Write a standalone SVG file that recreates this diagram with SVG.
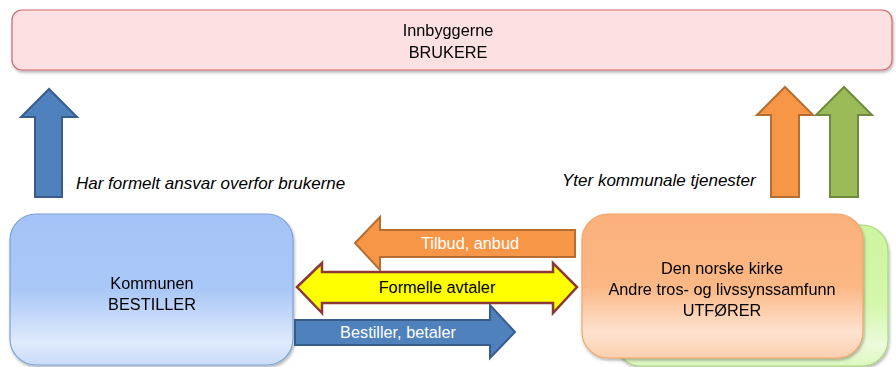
<svg xmlns="http://www.w3.org/2000/svg" width="896" height="367" viewBox="0 0 896 367">
<style>
text{font-family:"Liberation Sans",Arial,sans-serif;font-size:16.3px;text-anchor:middle;dominant-baseline:central}
.it{font-style:italic;font-size:17px;text-anchor:start}
.w{fill:#ffffff}
.blue{fill:#4f81bd;stroke:#385d8a;stroke-width:2}
.orange{fill:#f79646;stroke:#b66d31;stroke-width:2}
.green{fill:#9bbb59;stroke:#71893f;stroke-width:2}
.yellow{fill:#ffff00;stroke:#8c3836;stroke-width:2.5}
</style>
<defs>
<filter id="sh" x="-5%" y="-10%" width="110%" height="130%">
<feDropShadow dx="1" dy="2" stdDeviation="1.5" flood-color="#000" flood-opacity="0.3"/>
</filter>
<linearGradient id="gBlue" x1="0" y1="0" x2="0" y2="1">
<stop offset="0" stop-color="#a5c3f6"/>
<stop offset="0.5" stop-color="#a9c7f7"/>
<stop offset="0.85" stop-color="#dfeafc"/>
<stop offset="1" stop-color="#c9dcf9"/>
</linearGradient>
<linearGradient id="gOrange" x1="0" y1="0" x2="0" y2="1">
<stop offset="0" stop-color="#fbb07b"/>
<stop offset="0.5" stop-color="#fbb784"/>
<stop offset="0.82" stop-color="#fde2cf"/>
<stop offset="1" stop-color="#fcd0b0"/>
</linearGradient>
<linearGradient id="gGreen" x1="0" y1="0" x2="0" y2="1">
<stop offset="0" stop-color="#cdf5a0"/>
<stop offset="0.55" stop-color="#d4f7ab"/>
<stop offset="0.85" stop-color="#ecfbdc"/>
<stop offset="1" stop-color="#dcf8bf"/>
</linearGradient>
</defs>
<g id="brukere" filter="url(#sh)">
<rect x="12" y="10" width="880" height="60" rx="10" fill="#fde0e2" stroke="#d2676b" stroke-width="1.2"/>
<text x="448" y="30">Innbyggerne</text>
<text x="448" y="52">BRUKERE</text>
</g>
<g id="kommunen" filter="url(#sh)">
<rect x="10" y="214" width="283" height="151" rx="26" fill="url(#gBlue)" stroke="#7da1d6" stroke-width="1.2"/>
<text x="152" y="283">Kommunen</text>
<text x="152" y="304">BESTILLER</text>
</g>
<g id="utforer-bak" filter="url(#sh)">
<rect x="615" y="225" width="273" height="141" rx="26" fill="url(#gGreen)" stroke="#a9d77a" stroke-width="1.2"/>
</g>
<g id="utforer" filter="url(#sh)">
<rect x="582" y="214" width="281" height="144" rx="26" fill="url(#gOrange)" stroke="#f2a466" stroke-width="1.2"/>
<text x="722" y="268">Den norske kirke</text>
<text x="722" y="289">Andre tros- og livssynssamfunn</text>
<text x="722" y="310">UTFØRER</text>
</g>
<g id="connectors">
<g id="pil-ansvar">
<polygon class="blue" points="35,197 62,197 62,117 77,117 49,89 21,117 35,117"/>
<text class="it" x="76" y="183">Har formelt ansvar overfor brukerne</text>
</g>
<g id="pil-yter">
<polygon class="orange" points="771,197 799,197 799,115 813,115 785,87 757,115 771,115"/>
<polygon class="green" points="830,197 858,197 858,115 872,115 844,87 816,115 830,115"/>
<text class="it" x="562" y="180">Yter kommunale tjenester</text>
</g>
<g id="pil-tilbud">
<polygon class="orange" points="575,230 380,230 380,217 355,243 380,270 380,257 575,257"/>
<text class="w" x="470" y="243">Tilbud, anbud</text>
</g>
<g id="pil-avtaler">
<polygon class="yellow" points="297,287 322,263 322,272 553,272 553,263 577,287 553,313 553,303 322,303 322,313"/>
<text x="437" y="287">Formelle avtaler</text>
</g>
<g id="pil-bestiller">
<polygon class="blue" points="295,320 490,320 490,305 515,332 490,358 490,345 295,345"/>
<text class="w" x="398" y="332">Bestiller, betaler</text>
</g>
</g>
</svg>
